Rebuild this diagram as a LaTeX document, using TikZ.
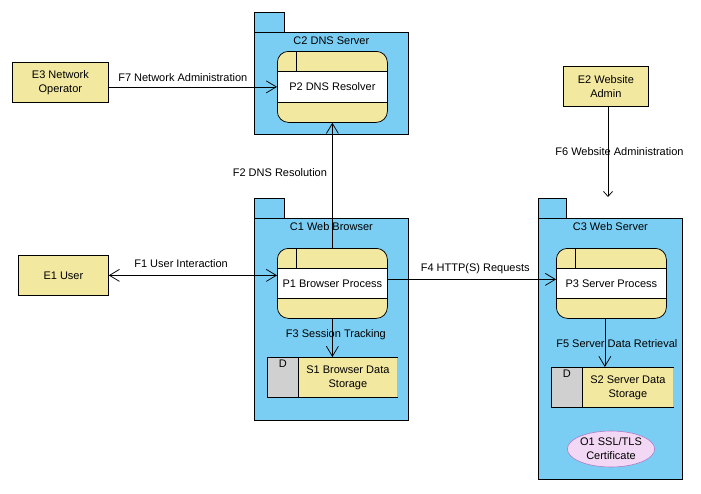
\documentclass[tikz,border=0pt]{standalone}
\usepackage{fontspec}
\setmainfont{Liberation Sans}
\usetikzlibrary{arrows.meta,shapes.geometric,calc}
\definecolor{cblue}{HTML}{7ACEF4}
\definecolor{cyel}{HTML}{F3E8A0}
\definecolor{cgray}{HTML}{D0D0D0}
\definecolor{cpink}{HTML}{F2D8F4}
\definecolor{cpurp}{HTML}{B27CC8}
\begin{document}
\begin{tikzpicture}[x=1pt,y=-1pt,
  every node/.style={font=\fontsize{11}{14}\selectfont, inner sep=0pt},
  line width=0.75pt,
  box/.style={draw, rectangle, anchor=north west},
  ext/.style={box, fill=cyel, align=center},
  cont/.style={box, fill=cblue},
  ctitle/.style={anchor=north},
  proc/.style={draw, fill=cyel, rounded corners=11pt, anchor=north west,
    minimum width=110pt, minimum height=70pt,
    path picture={
      \path (path picture bounding box.north west) coordinate (pnw)
            (path picture bounding box.south east) coordinate (pse);
      \draw[sharp corners, fill=white] ([yshift=-20pt]pnw) rectangle ([yshift=20pt]pse);
      \draw[sharp corners] ([xshift=19pt]pnw) -- ([xshift=19pt,yshift=-20pt]pnw);
    }},
  dtag/.style={box, fill=cgray, minimum width=31pt, minimum height=40pt,
    label={[anchor=north, inner sep=0pt, yshift=-3pt]north:D}},
  store/.style={rectangle, anchor=north west, fill=cyel, minimum height=40pt, align=center},
  flow/.style={draw, -{Straight Barb[length=10pt,width=12pt]}},
  lbl/.style={anchor=base}
]
\fill[white] (0,0) rectangle (701,493);
\useasboundingbox (0,0) rectangle (701,493);

% containers
\node[cont, minimum width=154pt, minimum height=102pt] (C2) at (254,32) {};
\node[cont, minimum width=30pt, minimum height=20pt] (C2tab) at (254,12) {};
\node[ctitle] (C2t) at ([yshift=-4pt]C2.north) {C2 DNS Server};

\node[cont, minimum width=154pt, minimum height=202pt] (C1) at (254,218) {};
\node[cont, minimum width=30pt, minimum height=20pt] (C1tab) at (254,198) {};
\node[ctitle] (C1t) at ([yshift=-4pt]C1.north) {C1 Web Browser};

\node[cont, minimum width=144pt, minimum height=261pt] (C3) at (538,218) {};
\node[cont, minimum width=28pt, minimum height=20pt] (C3tab) at (538,198) {};
\node[ctitle] (C3t) at ([yshift=-4pt]C3.north) {C3 Web Server};

% externals
\node[ext, minimum width=96pt, minimum height=40pt] (E3) at (12,62) {E3 Network\\Operator};
\node[ext, minimum width=85pt, minimum height=40pt] (E2) at (563,66) {E2 Website\\Admin};
\node[ext, minimum width=90pt, minimum height=40pt] (E1) at (18,255) {E1 User};

% processes
\node[proc, minimum height=71pt] (P2) at (277,51) {P2 DNS Resolver};
\node[proc] (P1) at (277,248) {P1 Browser Process};
\node[proc] (P3) at (556,248) {P3 Server Process};

% stores
\node[store, minimum width=99pt] (S1) at (298,357) {S1 Browser Data\\Storage};
\node[dtag] (S1d) at (267,357) {};
\draw (S1.north east) -- (S1d.north west) -- (S1d.south west) -- (S1.south east);

\node[store, minimum width=91pt] (S2) at (582,367) {S2 Server Data\\Storage};
\node[dtag] (S2d) at (551,367) {};
\draw (S2.north east) -- (S2d.north west) -- (S2d.south west) -- (S2.south east);

% other
\node[ellipse, draw=cpurp, fill=cpink, minimum width=83pt, minimum height=36pt, align=center, line width=0.6pt] (O1) at (611,449) {O1 SSL/TLS\\Certificate};

\coordinate (F6end) at (608,197);

% flows
\draw[flow] (E3.east |- P2.west) -- node[lbl, pos=0.44, yshift=5pt] {F7 Network Administration} (P2.west);
\draw[flow] (P1.north) -- node[lbl, pos=0.57, anchor=base east, xshift=-5pt] {F2 DNS Resolution} (P2.south);
\draw[{Straight Barb[length=10pt,width=12pt]}-{Straight Barb[length=10pt,width=12pt]}] (E1.east) -- node[lbl, pos=0.43, yshift=8pt] {F1 User Interaction} (E1.east -| P1.west);
\draw[flow] ([yshift=4pt]P1.east) -- node[lbl, pos=0.52, yshift=8pt] {F4 HTTP(S) Requests} ([yshift=4pt]P3.west);
\draw[flow] (P1.south) -- node[lbl, pos=0.5, xshift=3.5pt] {F3 Session Tracking} (P1.south |- S1.north);
\draw[flow] ([xshift=-6.5pt]P3.south) -- node[lbl, pos=0.59, xshift=12pt] {F5 Server Data Retrieval} ([xshift=-6.5pt]P3.south |- S2.north);
\draw[draw, -{Straight Barb[length=5pt,width=9pt]}] (E2.south -| F6end) -- node[lbl, pos=0.54, xshift=11.5pt] {F6 Website Administration} (F6end);
\end{tikzpicture}
\end{document}
